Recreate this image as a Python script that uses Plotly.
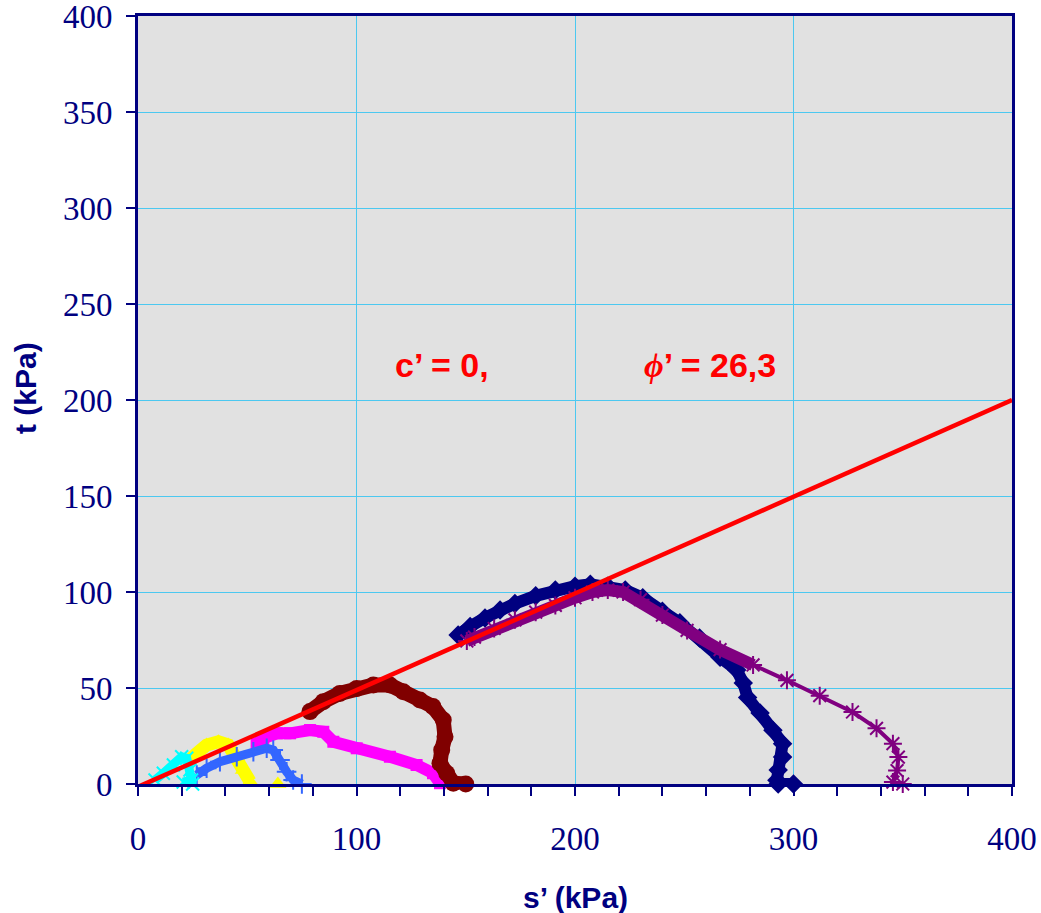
import plotly.graph_objects as go

# ---- data (s' , t) in kPa ----
navy_s = [300, 293, 292.4, 293, 295, 295, 290.6, 284.7, 279, 277, 274, 266.4, 257, 248, 240, 231, 223, 215, 207, 200, 191, 182, 172.5, 165.7, 158.8, 152, 146.5]
navy_t = [0, 0, 2, 7.3, 14, 21, 28, 37, 45, 52.6, 59.4, 66, 76, 84, 90, 97, 101, 103, 104, 103, 101, 98, 94, 90.6, 86.5, 82, 77.6]

purple_s = [350, 345.5, 347.4, 348, 345.5, 338, 327, 312, 297, 281.5, 266.4, 251.3, 240, 230, 222, 215, 208, 200, 191, 182, 172.5, 163, 154, 150.5]
purple_t = [0, 1, 7, 14, 21, 29, 37.5, 46, 54, 62, 70, 80, 88, 96, 100, 101, 100, 97, 93, 89.5, 85.5, 81, 76.5, 74.5]

darkred_s = [150, 144.3, 141.3, 138.2, 139, 140.5, 139.7, 135, 129, 121.4, 115.3, 107.7, 100.1, 92.4, 84.8, 78.7]
darkred_t = [0, 0.4, 5.6, 10.8, 17.7, 24.6, 33.3, 40.3, 43.8, 48, 51.6, 51.6, 49.8, 47.2, 42.9, 37.7]

magenta_s = [150, 138.2, 135, 127.5, 115.3, 100.1, 89.4, 84.8, 78.7, 69.6, 63.5, 57.3, 54.3]
magenta_t = [0, 0.4, 5.6, 9.9, 14.2, 18.6, 22, 27.2, 28.1, 26.4, 26.4, 23.8, 21.2]

yellow_s = [64, 51.3, 48.2, 45.2, 41.3, 36.8, 31.4, 26.9, 24.5]
yellow_t = [0, 1.2, 7.3, 14.2, 20.3, 22, 20.3, 16, 13.4]

blue_s = [75, 71, 68, 65, 61.9, 58.9, 52.8, 45.2, 37.5, 31.4, 26.9]
blue_t = [0, 2.1, 6.4, 12.5, 17.7, 18.6, 16.8, 14.2, 11.6, 8.2, 4.7]

cyan_s = [25, 20.7, 24.5, 23.8, 22.3, 20, 16.2, 11.6, 7.8]
cyan_t = [0, 1, 2.1, 7.3, 13.4, 14.2, 9.9, 5.6, 2.1]

envelope_s = [1, 400]
envelope_t = [-1, 200]

x_ticks = [0, 100, 200, 300, 400]
y_ticks = [0, 50, 100, 150, 200, 250, 300, 350, 400]

NAVY = "#000080"
PURPLE = "#800080"
YELLOW = "#FFFF00"

fig = go.Figure()

def add_series(s, t, color, symbol, msize, lw, open_marker=False, mlw=0, mode="lines+markers"):
    marker = dict(symbol=symbol, size=msize, color=color)
    if open_marker:
        marker["line"] = dict(color=color, width=mlw)
    fig.add_trace(go.Scatter(x=s, y=t, mode=mode,
                             line=dict(color=color, width=lw),
                             marker=marker, showlegend=False, cliponaxis=False))

add_series(magenta_s, magenta_t, "#FF00FF", "square", 12, 12)
add_series(darkred_s, darkred_t, "#800000", "circle", 17, 15)
add_series(yellow_s[1:], yellow_t[1:], YELLOW, "triangle-up", 15, 13)
add_series(blue_s, blue_t, "#3366FF", "cross-thin-open", 14, 9, True, 2)
# yellow initial point shown as a lone marker
add_series(yellow_s[:1], yellow_t[:1], YELLOW, "triangle-up", 15, 0, mode="markers")
add_series(cyan_s, cyan_t, "#00FFFF", "x-thin-open", 13, 9, True, 2)
add_series(navy_s, navy_t, NAVY, "diamond", 15, 12)
# purple: dense (thick) band on the upper part, discrete markers lower down
fig.add_trace(go.Scatter(x=purple_s[9:], y=purple_t[9:], mode="lines",
                         line=dict(color=PURPLE, width=12), showlegend=False))
add_series(purple_s, purple_t, PURPLE, "asterisk-open", 15, 4, True, 2)

fig.add_trace(go.Scatter(x=envelope_s, y=envelope_t, mode="lines",
                         line=dict(color="#FF0000", width=4.5), showlegend=False))

tickfont = dict(family="Liberation Serif", size=33, color=NAVY)

fig.update_xaxes(range=[0, 400], tickvals=x_ticks, ticks="outside", ticklen=9,
                 tickcolor=NAVY, tickwidth=1.5, tickfont=tickfont,
                 ticklabelstandoff=14, ticklabeloverflow="allow", automargin=False,
                 showline=True, linecolor=NAVY, linewidth=3, mirror=True,
                 showgrid=True, gridcolor="#4CC8F0", gridwidth=1.3, zeroline=False,
                 minor=dict(dtick=20, ticks="outside", ticklen=9, tickcolor=NAVY,
                            tickwidth=1.5, showgrid=False))
fig.update_yaxes(range=[0, 400], tickvals=y_ticks, ticks="outside", ticklen=9,
                 tickcolor=NAVY, tickwidth=1.5, tickfont=tickfont,
                 ticklabelstandoff=7, ticklabeloverflow="allow", automargin=False,
                 showline=True, linecolor=NAVY, linewidth=3, mirror=True,
                 showgrid=True, gridcolor="#4CC8F0", gridwidth=1.3, zeroline=False)

titlefont = dict(family="Liberation Sans", size=30, color=NAVY)
annfont = dict(family="Liberation Sans", size=34, color="#FF0000")

fig.update_layout(
    width=1041, height=913, autosize=False,
    margin=dict(l=138, r=29, t=16, b=129),
    plot_bgcolor="#E1E1E1", paper_bgcolor="white",
    annotations=[
        dict(text="<b>s’ (kPa)</b>", xref="paper", yref="paper", x=0.5, y=0,
             yshift=-113, xanchor="center", yanchor="middle", showarrow=False, font=titlefont),
        dict(text="<b>t (kPa)</b>", xref="paper", yref="paper", x=0, y=0.5156,
             xshift=-113, xanchor="center", yanchor="middle", textangle=-90,
             showarrow=False, font=titlefont),
        dict(text="<b>c’ = 0,</b>", x=116.7, y=218, xanchor="left", yanchor="middle",
             showarrow=False, font=annfont),
        dict(text='<b><span style="font-family:Liberation Serif"><i>ϕ</i></span>’ = 26,3</b>',
             x=230.7, y=218, xanchor="left", yanchor="middle", showarrow=False, font=annfont),
    ],
)

fig.write_html("out.html", config={"displayModeBar": False},
               post_script="document.body.style.margin='0';document.body.style.overflow='hidden';")
